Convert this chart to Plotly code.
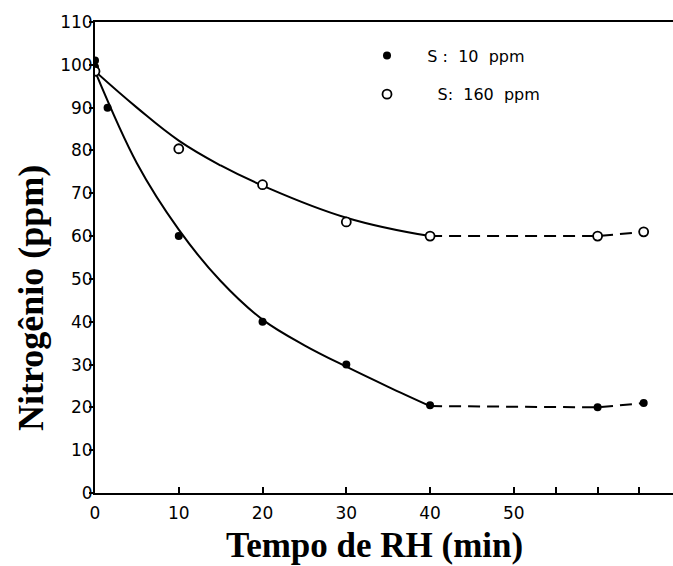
import plotly.graph_objects as go

# ---- data ----
# S: 10 ppm (filled circles)
s10_x = [0, 0, 1.5, 10, 20, 30, 40, 60, 65.5]
s10_y = [101, 99.5, 90, 60, 40, 30, 20.5, 20, 21]
# S: 160 ppm (open circles)
s160_x = [0, 10, 20, 30, 40, 60, 65.5]
s160_y = [98.5, 80.4, 72, 63.3, 60, 60, 61]

# fitted curves (solid)
fit10_x = [0, 5, 10, 15, 20, 25, 30, 35, 40]
fit10_y = [98.5, 77, 61.5, 49.5, 40.5, 34.5, 29.5, 24.8, 20.3]
fit160_x = [0, 5, 10, 15, 20, 30, 40]
fit160_y = [98.5, 90, 82.3, 76.5, 71.8, 64.3, 60]

# dashed plateau segments
dash_x = [40, 60, 65.5]
dash10_y = [20.3, 20, 21]
dash160_y = [60, 60, 61]

x_tickvals = [0, 10, 20, 30, 40, 50, 55, 60, 65]
x_ticktext = ["0", "10", "20", "30", "40", "50", "", "", ""]
y_tickvals = [0, 10, 20, 30, 40, 50, 60, 70, 80, 90, 100, 110]

NB = "\u00a0"
legend_labels = [NB * 4 + "S :  10  ppm", NB * 6 + "S:  160  ppm"]
x_title = "<b>Tempo de RH (min)</b>"
y_title = "<b>Nitrogênio (ppm)</b>"

fig = go.Figure()

line_style = dict(color="black", width=2)
fig.add_trace(go.Scatter(x=fit10_x, y=fit10_y, mode="lines",
                         line=dict(shape="spline", smoothing=1.0, **line_style),
                         showlegend=False, hoverinfo="skip"))
fig.add_trace(go.Scatter(x=fit160_x, y=fit160_y, mode="lines",
                         line=dict(shape="spline", smoothing=1.2, **line_style),
                         showlegend=False, hoverinfo="skip"))
fig.add_trace(go.Scatter(x=dash_x, y=dash10_y, mode="lines",
                         line=dict(color="black", width=2, dash="12px,7px"),
                         showlegend=False, hoverinfo="skip"))
fig.add_trace(go.Scatter(x=dash_x, y=dash160_y, mode="lines",
                         line=dict(color="black", width=2, dash="12px,7px"),
                         showlegend=False, hoverinfo="skip"))

fig.add_trace(go.Scatter(x=s10_x, y=s10_y, mode="markers", name=legend_labels[0],
                         legendgroup="a",
                         marker=dict(symbol="circle", size=8, color="black")))
fig.add_trace(go.Scatter(x=s160_x, y=s160_y, mode="markers", name=legend_labels[1],
                         legendgroup="b",
                         marker=dict(symbol="circle", size=9, color="white",
                                     line=dict(color="black", width=1.8))))

tick_font = dict(family="DejaVu Sans", size=17, color="black")

fig.update_layout(
    width=673, height=566,
    margin=dict(l=95, r=0, t=22, b=73),
    paper_bgcolor="white", plot_bgcolor="white",
    legend=dict(x=0.4706, y=0.965, xanchor="left", yanchor="top",
                font=dict(family="DejaVu Sans", size=16, color="black"),
                bgcolor="rgba(0,0,0,0)", itemwidth=30, tracegroupgap=15),
    xaxis=dict(range=[0, 69], tickvals=x_tickvals, ticktext=x_ticktext,
               ticks="inside", ticklen=6, tickwidth=1.5, tickcolor="black",
               showline=True, linecolor="black", linewidth=2, mirror=True,
               showgrid=False, zeroline=False, tickfont=tick_font, ticklabelstandoff=4),
    yaxis=dict(range=[0, 110], tickvals=y_tickvals,
               ticks="outside", ticklen=4, tickwidth=1.5, tickcolor="black",
               showline=True, linecolor="black", linewidth=2,
               showgrid=False, zeroline=False, tickfont=tick_font, ticklabelstandoff=-7),
    annotations=[
        dict(text=x_title, xref="paper", yref="paper", x=0.4844, y=-0.1125,
             xanchor="center", yanchor="middle", showarrow=False,
             font=dict(family="Liberation Serif", size=35, color="black")),
        dict(text=y_title, xref="paper", yref="paper", x=-0.1107, y=0.414,
             xanchor="center", yanchor="middle", showarrow=False, textangle=-90,
             font=dict(family="Liberation Serif", size=36, color="black")),
    ],
)

fig.write_html("out.html")
